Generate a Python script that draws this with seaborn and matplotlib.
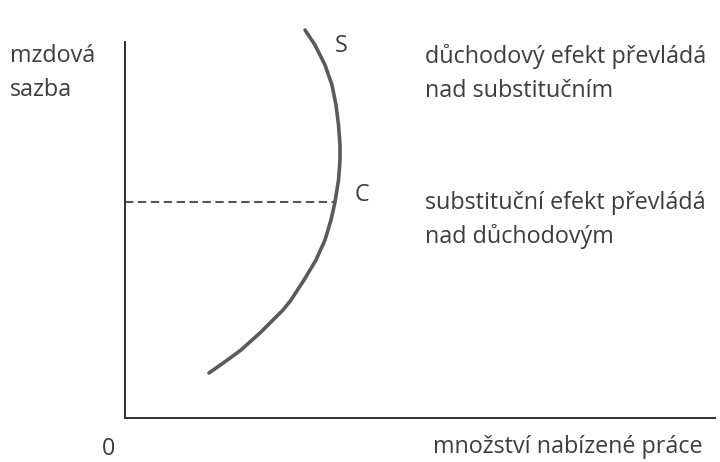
import matplotlib
matplotlib.use("Agg")
import matplotlib.pyplot as plt
import seaborn as sns
import pandas as pd

# backward-bending labour supply curve S
supply_qty = [4.500, 4.750, 5.000, 5.175, 5.275, 5.338, 5.375, 5.375, 5.338, 5.250,
              5.150, 5.000, 4.775, 4.475, 4.150, 3.950, 3.400, 2.900, 2.525, 2.100]
supply_wage = [9.700, 9.325, 8.825, 8.325, 7.825, 7.325, 6.825, 6.450, 5.950, 5.400,
               4.950, 4.450, 3.950, 3.450, 2.950, 2.700, 2.150, 1.700, 1.425, 1.125]

# turning point C
c_qty = 5.25
c_wage = 5.40

supply = pd.DataFrame({"qty": supply_qty, "wage": supply_wage})

sns.set_style("white")
plt.rcParams["font.family"] = ["Open Sans", "DejaVu Sans"]

txt_color = "#3d3d3d"
fs = 16.8

fig = plt.figure(figsize=(7.2, 4.62), dpi=100)
ax = fig.add_axes([125 / 720, 44 / 462, 590 / 720, 376 / 462])

sns.lineplot(data=supply, x="qty", y="wage", sort=False, estimator=None,
             color="#5a5a5a", linewidth=2.6, solid_capstyle="round",
             solid_joinstyle="round", clip_on=False, ax=ax)

# dashed line from the wage axis to C
line, = ax.plot([0, c_qty], [c_wage, c_wage], color="#555555", linewidth=1.5)
line.set_dashes((4, 2.2))

ax.set_xlim(0, 590 / 40)
ax.set_ylim(0, 376 / 40)
ax.set_xticks([])
ax.set_yticks([])
ax.set_xlabel("")
ax.set_ylabel("")
sns.despine(ax=ax)
for side in ["left", "bottom"]:
    ax.spines[side].set_color("#2e2e2e")
    ax.spines[side].set_linewidth(1.4)


def label(px, py, s):
    fig.text(px / 720, 1 - py / 462, s, fontsize=fs, color=txt_color,
             ha="left", va="baseline")


label(10, 62, "mzdová")
label(10, 96, "sazba")
label(425, 63, "důchodový efekt převládá")
label(425, 97, "nad substitučním")
label(425, 209, "substituční efekt převládá")
label(425, 243, "nad důchodovým")
label(433, 453, "množství nabízené práce")
label(102, 455, "0")
label(335, 52, "S")
label(355, 201, "C")

fig.savefig("out.png", dpi=100)
